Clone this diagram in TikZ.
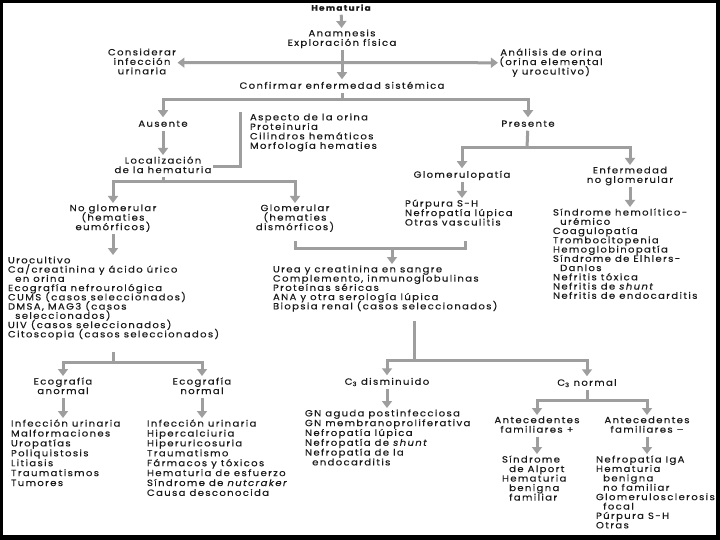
\documentclass[tikz,border=0pt]{standalone}
\usepackage{fontspec}
\setmainfont{Poppins}[FakeStretch=1.12, LetterSpace=15, FakeBold=0.3]
\usetikzlibrary{arrows.meta}
\definecolor{tc}{RGB}{25,25,25}
\definecolor{ac}{RGB}{158,158,158}
\newcommand{\fsz}[1]{\fontsize{9}{#1}\selectfont\lineskiplimit=-20pt\relax}
\newcommand{\ind}{\hspace*{0.8em}}
\tikzset{
  base/.style={inner sep=0pt, outer sep=1.5pt, text=tc, font=\fsz{9.5},
    execute at begin node={\rule{0pt}{8pt}},
    execute at end node={\rule[-2.5pt]{0pt}{2.5pt}}},
  ctr/.style={base, align=center, anchor=north},
  one/.style={base, anchor=center},
  lst/.style={base, align=left, anchor=north west},
  ln/.style={draw=ac, line width=3pt},
  arr/.style={draw=ac, line width=3pt, -{Triangle[width=10pt,length=7pt]}},
  darr/.style={draw=ac, line width=3pt, {Triangle[width=10pt,length=7pt]}-{Triangle[width=10pt,length=7pt]}},
}
\begin{document}
\begin{tikzpicture}[x=1pt,y=-1pt]
\useasboundingbox (0,0) rectangle (720,540);
\fill[black] (0,0) rectangle (720,540);
\fill[white] (3,3) rectangle (716,535);

% nodes
\node[one, font=\fontsize{8}{9}\selectfont\bfseries] (hem) at (341,8) {Hematuria};
\node[ctr] (anam) at (342,28) {Anamnesis\\Exploración física};
\node[ctr] (cons) at (142,47) {Considerar\\infección\\urinaria};
\node[ctr] (anal) at (551,47) {Análisis de orina\\(orina elemental\\y urocultivo)};
\node[one] (conf) at (342,86) {Confirmar enfermedad sistémica};
\node[one] (aus) at (163,124) {Ausente};
\node[one] (pres) at (528,124) {Presente};
\node[ctr] (loc) at (163,155) {Localización\\de la hematuria};
\node[lst] (asp) at (248.5,112) {Aspecto de la orina\\Proteinuria\\Cilindros hemáticos\\Morfología hematies};
\node[one] (glomp) at (462,175) {Glomerulopatía};
\node[ctr] (enf) at (630,165) {Enfermedad\\no glomerular};
\node[ctr] (nog) at (113,203) {No glomerular\\(hematies\\eumórficos)};
\node[ctr] (glo) at (295,203) {Glomerular\\(hematies\\dismórficos)};
\node[lst] (purp) at (403.5,198) {Púrpura S-H\\Nefropatía lúpica\\Otras vasculitis};
\node[lst, font=\fsz{9.25}] (sind) at (551.5,207) {Síndrome hemolítico-\\\ind urémico\\Coagulopatía\\Trombocitopenia\\Hemoglobinopatía\\Síndrome de Elhlers-\\\ind Danlos\\Nefritis tóxica\\Nefritis de \textit{shunt}\\Nefritis de endocarditis};
\node[lst, font=\fsz{9.25}] (uro) at (6.5,255) {Urocultivo\\Ca/creatinina y ácido úrico\\\ind en orina\\Ecografía nefrourológica\\CUMS (casos seleccionados)\\DMSA, MAG3 (casos\\\ind seleccionados)\\UIV (casos seleccionados)\\Citoscopia (casos seleccionados)};
\node[lst, font=\fsz{9.25}] (urea) at (271.5,264) {Urea y creatinina en sangre\\Complemento, inmunoglobulinas\\Proteínas séricas\\ANA y otra serología lúpica\\Biopsia renal (casos seleccionados)};
\node[one] (c3d) at (387,382) {C\textsubscript{3} disminuido};
\node[one] (c3n) at (587,383) {C\textsubscript{3} normal};
\node[lst, font=\fsz{9.8}] (gn) at (303.5,408) {GN aguda postinfecciosa\\GN membranoproliferativa\\Nefropatía lúpica\\Nefropatía de \textit{shunt}\\Nefropatía de la\\\ind endocarditis};
\node[ctr] (antp) at (537,415) {Antecedentes\\familiares +};
\node[ctr] (antm) at (647,415) {Antecedentes\\familiares –};
\node[lst] (alp) at (500.5,454) {Síndrome\\\ind de Alport\\Hematuria\\\ind benigna\\\ind familiar};
\node[lst, font=\fsz{9.4}] (iga) at (594.5,454) {Nefropatía IgA\\Hematuria\\\ind benigna\\\ind no familiar\\Glomerulosclerosis\\\ind focal\\Púrpura S-H\\Otras};
\node[ctr] (ecoa) at (63,376) {Ecografía\\anormal};
\node[ctr] (econ) at (202,376) {Ecografía\\normal};
\node[lst, font=\fsz{9.9}] (infa) at (9.5,418) {Infección urinaria\\Malformaciones\\Uropatías\\Poliquistosis\\Litiasis\\Traumatismos\\Tumores};
\node[lst, font=\fsz{9.9}] (infn) at (145.5,418) {Infección urinaria\\Hipercalciuria\\Hiperuricosuria\\Traumatismo\\Fármacos y tóxicos\\Hematuria de esfuerzo\\Síndrome de \textit{nutcraker}\\Causa desconocida};

% junctions
\coordinate (j1) at (342,100);
\coordinate (j2) at (163,182);
\coordinate (j3) at (527,148);
\coordinate (s1) at (295,241);
\coordinate (s2) at (465,241);
\coordinate (j4) at (392,248);
\coordinate (s3) at (414,321);
\coordinate (j5) at (414,360);
\coordinate (j6) at (587,400);
\coordinate (s4) at (113,352);
\coordinate (j7) at (113,362);

% connectors
\draw[arr] (hem) -- (anam);
\draw[darr] (cons) -- (anal);
\draw[arr] (anam) -- (conf);
\draw[ln] (conf) -- (j1);
\draw[arr] (j1) -| (aus);
\draw[arr] (j1) -| (pres);
\draw[arr] (aus) -- (loc);
\draw[ln] (loc.east) -- ++(27,0) coordinate (brk) -- (brk |- asp.north);
\draw[ln] (loc) -- (j2);
\draw[arr] (j2) -| (nog);
\draw[arr] (j2) -| (glo);
\draw[ln] (pres) -- (j3);
\draw[arr] (j3) -| (glomp);
\draw[arr] (j3) -| (enf);
\draw[arr] (glomp) -- (glomp |- purp.north);
\draw[arr] (enf) -- (enf |- sind.north);
\draw[arr] (nog) -- (nog |- uro.north);
\draw[ln] (s1) -- (s1 |- j4) -- (s2 |- j4) -- (s2);
\draw[arr] (j4) -- (j4 |- urea.north);
\draw[ln] (s3) -- (j5);
\draw[arr] (j5) -| (c3d);
\draw[arr] (j5) -| (c3n);
\draw[arr] (c3d) -- (c3d |- gn.north);
\draw[ln] (c3n) -- (j6);
\draw[arr] (j6) -| (antp);
\draw[arr] (j6) -| (antm);
\draw[arr] (antp) -- (antp |- alp.north);
\draw[arr] (antm) -- (antm |- iga.north);
\draw[ln] (s4) -- (j7);
\draw[arr] (j7) -| (ecoa);
\draw[arr] (j7) -| (econ);
\draw[arr] (ecoa) -- (ecoa |- infa.north);
\draw[arr] (econ) -- (econ |- infn.north);
\end{tikzpicture}
\end{document}
